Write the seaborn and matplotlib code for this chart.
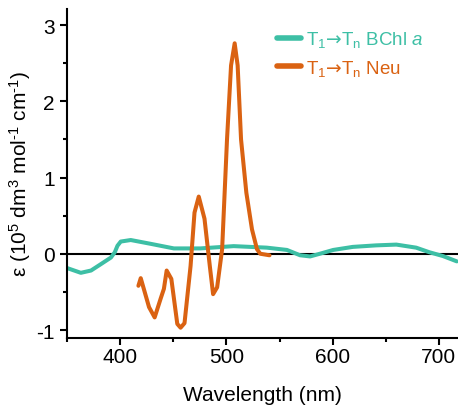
import numpy as np
import pandas as pd
import matplotlib
matplotlib.use("Agg")
import matplotlib.pyplot as plt
import seaborn as sns

# Data
bchl_wl = [350.6, 363, 372.6, 382, 391.3, 395, 397.5, 400.6, 410, 428.8, 450.6, 475.6, 506.9,
           538, 557, 569.4, 578.8, 588, 600.6, 619, 641, 660, 678.6, 691, 703.8, 716.9]
bchl_eps = [-0.19, -0.25, -0.22, -0.135, -0.05, 0.02, 0.105, 0.16, 0.18, 0.13, 0.07, 0.07, 0.10,
            0.08, 0.05, -0.02, -0.035, 0.0, 0.05, 0.09, 0.11, 0.12, 0.08, 0.02, -0.03, -0.10]
neu_wl = [417.2, 419.4, 427.2, 432.5, 438.1, 441.2, 443.8, 448.2, 453.8, 456.9, 460.6, 466.3,
          470, 474, 479.4, 484.4, 487.5, 491.3, 496, 500.6, 504.4, 507.8, 510.6, 513.8,
          518.8, 524.1, 528.8, 531.9, 540.6]
neu_eps = [-0.42, -0.32, -0.70, -0.835, -0.59, -0.46, -0.22, -0.33, -0.92, -0.97, -0.91, -0.16,
           0.54, 0.75, 0.46, -0.16, -0.53, -0.44, 0.06, 1.5, 2.47, 2.76, 2.47, 1.5,
           0.8, 0.32, 0.06, 0.0, -0.02]
labels = ["T$_1$$\\mathsf{\u2192}$T$_\\mathrm{n}$ BChl $\\mathit{a}$",
          "T$_1$$\\mathsf{\u2192}$T$_\\mathrm{n}$ Neu"]
colors = ["#3DBFA5", "#DA6212"]

df = pd.concat([
    pd.DataFrame({"wl": bchl_wl, "eps": bchl_eps, "series": labels[0]}),
    pd.DataFrame({"wl": neu_wl, "eps": neu_eps, "series": labels[1]}),
])

sns.set_theme(style="ticks")
plt.rcParams["font.family"] = ["Liberation Sans", "DejaVu Sans"]
plt.rcParams["mathtext.fontset"] = "custom"
plt.rcParams["mathtext.rm"] = "Liberation Sans"
plt.rcParams["mathtext.it"] = "Liberation Sans:italic"
plt.rcParams["mathtext.sf"] = "DejaVu Sans"
plt.rcParams["mathtext.fallback"] = "stixsans"
plt.rcParams["axes.unicode_minus"] = False
plt.rcParams["text.color"] = "black"
plt.rcParams["axes.labelcolor"] = "black"

fig = plt.figure(figsize=(4.58, 4.06), dpi=100)
ax = fig.add_axes([0.1463, 0.165, 0.8537, 0.8104])

ax.axhline(0, color="black", lw=1.5, zorder=1)
sns.lineplot(data=df, x="wl", y="eps", hue="series", palette=dict(zip(labels, colors)),
             lw=2.9, ax=ax, sort=False, estimator=None, zorder=2)

ax.set_xlim(350, 718)
ax.set_ylim(-1.105, 3.21)
ax.set_xticks([400, 500, 600, 700])
ax.set_xticks([350, 450, 550, 650], minor=True)
ax.set_yticks([-1, 0, 1, 2, 3])
ax.set_yticks([-0.5, 0.5, 1.5, 2.5], minor=True)
ax.tick_params(which="major", length=5, width=1.5, labelsize=15, color="black", labelcolor="black")
ax.tick_params(axis="x", which="major", pad=1.5)
ax.tick_params(axis="y", which="major", pad=4)
ax.tick_params(which="minor", length=3, width=1.5, color="black")
for s in ["left", "bottom"]:
    ax.spines[s].set_linewidth(1.5)
    ax.spines[s].set_color("black")
sns.despine(ax=ax)

ax.set_xlabel("Wavelength (nm)", fontsize=15, labelpad=14)
ax.set_ylabel(r"ε (10$^5$ dm$^3$ mol$^{\text{-1}}$ cm$^{\text{-1}}$)", fontsize=15, labelpad=2)

leg = ax.legend(loc="upper right", bbox_to_anchor=(0.955, 0.99), frameon=False, fontsize=13.5,
                handlelength=1.3, handletextpad=0.25, labelspacing=0.45)
for line, text, c in zip(leg.get_lines(), leg.get_texts(), colors):
    line.set_linewidth(4)
    text.set_color(c)

fig.savefig("out.png", dpi=100)
